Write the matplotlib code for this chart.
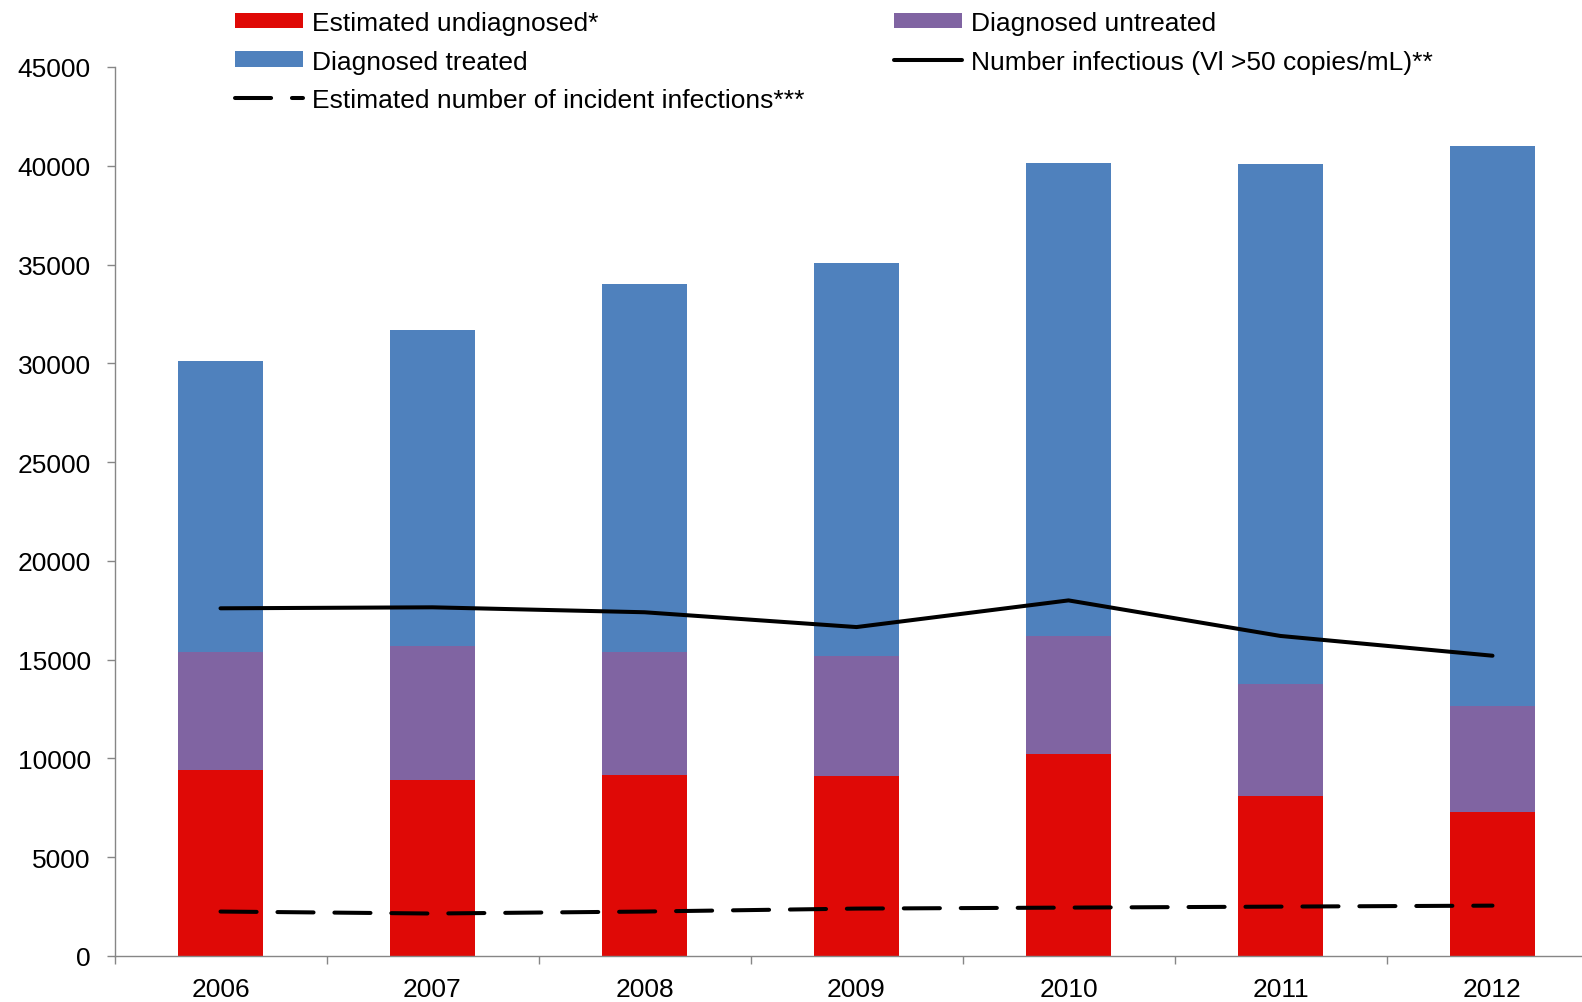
import matplotlib
matplotlib.use("Agg")
import matplotlib.pyplot as plt
import numpy as np

# Data
years = ["2006", "2007", "2008", "2009", "2010", "2011", "2012"]
undiagnosed = [9400, 8900, 9150, 9100, 10250, 8100, 7300]
diagnosed_untreated = [6000, 6800, 6250, 6100, 5950, 5650, 5350]
diagnosed_treated = [14700, 16000, 18600, 19900, 23950, 26350, 28350]
infectious = [17600, 17650, 17400, 16650, 18000, 16200, 15200]
incident = [2250, 2150, 2250, 2400, 2450, 2500, 2550]

yticks = list(range(0, 45001, 5000))

plt.rcParams["font.family"] = ["Liberation Sans", "DejaVu Sans"]
plt.rcParams["lines.scale_dashes"] = False

RED = "#DF0906"
PURPLE = "#8064A2"
BLUE = "#4F81BD"
GREY = "#868686"
FS = 19

fig = plt.figure(figsize=(15.82, 10.03), dpi=100)
ax = fig.add_axes([114.5 / 1582, 46 / 1003, 1484 / 1582, 889 / 1003])

x = np.arange(len(years))
w = 0.4
b1 = ax.bar(x, undiagnosed, w, color=RED, zorder=2)
bottom2 = np.array(undiagnosed)
b2 = ax.bar(x, diagnosed_untreated, w, bottom=bottom2, color=PURPLE, zorder=2)
bottom3 = bottom2 + np.array(diagnosed_untreated)
b3 = ax.bar(x, diagnosed_treated, w, bottom=bottom3, color=BLUE, zorder=2)

l1, = ax.plot(x, infectious, color="black", lw=2.9, solid_capstyle="round",
              solid_joinstyle="round", zorder=3)
l2, = ax.plot(x, incident, color="black", lw=2.9, dash_capstyle="round",
              linestyle=(0, (26, 15)), zorder=3)

ax.set_xlim(-0.5, len(years) - 0.5)
ax.set_ylim(0, 45000)
ax.set_yticks(yticks)
ax.set_yticklabels([str(v) for v in yticks])
ax.set_xticks(x)
ax.set_xticklabels(years)
ax.set_xticks(np.arange(-0.5, len(years), 1.0), minor=True)

for s in ("top", "right"):
    ax.spines[s].set_visible(False)
for s in ("left", "bottom"):
    ax.spines[s].set_color(GREY)
    ax.spines[s].set_linewidth(1.0)

ax.tick_params(axis="y", length=6, width=1, color=GREY, pad=11, labelsize=FS)
ax.tick_params(axis="x", which="major", length=0, pad=15, labelsize=FS)
ax.tick_params(axis="x", which="minor", length=6, width=1, color=GREY)

handles = [b1, b3, l2, b2, l1]
labels = ["Estimated undiagnosed*", "Diagnosed treated",
          "Estimated number of incident infections***",
          "Diagnosed untreated", "Number infectious (Vl >50 copies/mL)**"]
fig.legend(handles, labels, ncol=2, loc="upper left",
           bbox_to_anchor=(235 / 1582, 1 - 12 / 1003), frameon=False,
           fontsize=FS, handlelength=2.56, handleheight=0.53,
           handletextpad=0.34, columnspacing=3.42, labelspacing=0.55,
           borderpad=0.0, borderaxespad=0.0)

fig.savefig("out.png", dpi=100)
